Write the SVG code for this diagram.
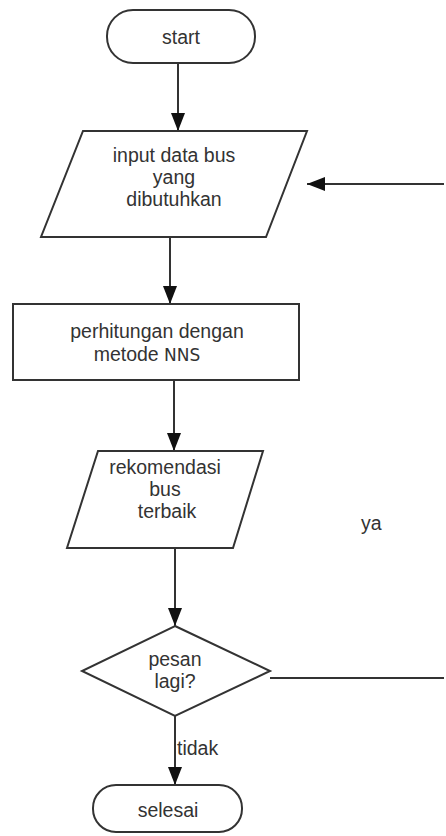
<svg xmlns="http://www.w3.org/2000/svg" width="446" height="836" viewBox="0 0 446 836">
<defs>
<marker id="arr" markerUnits="userSpaceOnUse" markerWidth="18" markerHeight="14" refX="18" refY="7" orient="auto">
<path d="M0,0 L18,7 L0,14 z" fill="#111"/>
</marker>
<style>
.s{fill:#fff;stroke:#333;stroke-width:2}
.t{font-family:"Liberation Sans",Arial,sans-serif;font-size:19.5px;fill:#333;text-anchor:middle}
.l{fill:none;stroke:#333;stroke-width:2}
</style>
</defs>
<rect width="446" height="836" fill="#fff"/>
<g id="connectors">
<path class="l" d="M178,63 L178,131" marker-end="url(#arr)"/>
<path class="l" d="M170,237 L170,304" marker-end="url(#arr)"/>
<path class="l" d="M174,380 L174,451" marker-end="url(#arr)"/>
<path class="l" d="M175,548 L175,626" marker-end="url(#arr)"/>
<path class="l" d="M175,716 L175,785" marker-end="url(#arr)"/>
<path class="l" d="M270,678 L444,678"/>
<path class="l" d="M444,184 L307,184" marker-end="url(#arr)"/>
<text class="t" x="177" y="755" style="text-anchor:start">tidak</text>
<text class="t" x="361" y="530" style="text-anchor:start">ya</text>
</g>
<g id="start">
<rect class="s" x="107" y="10" width="148" height="53" rx="26"/>
<text class="t" x="181" y="44">start</text>
</g>
<g id="input">
<polygon class="s" points="83,131 307,131 266,237 41,237"/>
<text class="t" x="174" y="162">input data bus</text>
<text class="t" x="174" y="184">yang</text>
<text class="t" x="174" y="206">dibutuhkan</text>
</g>
<g id="hitung">
<rect class="s" x="13" y="304" width="286" height="76"/>
<text class="t" x="157" y="338">perhitungan dengan</text>
<text class="t" x="147" y="361">metode <tspan style="font-family:'DejaVu Sans',sans-serif;font-size:17px">NNS</tspan></text>
</g>
<g id="rekomendasi">
<polygon class="s" points="98,451 263,451 233,548 67,548"/>
<text class="t" x="165" y="474">rekomendasi</text>
<text class="t" x="165" y="496">bus</text>
<text class="t" x="167" y="518">terbaik</text>
</g>
<g id="pesan">
<polygon class="s" points="175,626 270,671 175,716 82,671"/>
<text class="t" x="175" y="666">pesan</text>
<text class="t" x="175" y="688">lagi?</text>
</g>
<g id="selesai">
<rect class="s" x="93" y="785" width="149" height="47" rx="23"/>
<text class="t" x="168" y="817">selesai</text>
</g>
</svg>
